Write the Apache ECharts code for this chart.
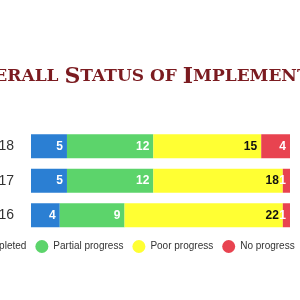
<!DOCTYPE html>
<html>
<head>
<meta charset="utf-8">
<script src="https://cdn.jsdelivr.net/npm/echarts@6/dist/echarts.min.js"></script>
<style>
  html, body { margin: 0; padding: 0; width: 300px; height: 300px; overflow: hidden; background: #fff; }
  /* 原图是裁剪过的，这里把画布放大再左移 */
  #main { position: absolute; left: -60px; top: 0; width: 440px; height: 300px; }
</style>
</head>
<body>
<div id="main"></div>
<script>
// 年份
var years = ['2018', '2017', '2016'];
// 图例
var legend_names = ['Completed', 'Partial progress', 'Poor progress', 'No progress'];
// 各状态的数量
var completed = [5, 5, 4];
var partial = [12, 12, 9];
var poor = [15, 18, 22];
var no_progress = [4, 1, 1];

var colors = ['#2b7fd3', '#5cd46b', '#ffff33', '#e84350'];
var label_colors = ['#fff', '#fff', '#111', '#fff'];

var ec = echarts.init(document.getElementById('main'));

var series = [];
[completed, partial, poor, no_progress].forEach(function(ele, index) {
  series.push({
    name: legend_names[index],
    type: 'bar',
    stack: 'all',
    barWidth: 24,
    data: ele,
    label: {
      show: true,
      position: 'insideRight',
      distance: 4,
      color: label_colors[index],
      fontFamily: 'Liberation Sans',
      fontWeight: 'bold',
      fontSize: 12
    }
  });
});

ec.setOption({
  color: colors,
  animation: false,
  title: {
    left: 17,
    top: 61,
    text: '{b|O}{s|VERALL }{b|S}{s|TATUS OF }{b|I}{s|MPLEMENTATION}',
    textStyle: {
      rich: {
        b: { fontFamily: 'DejaVu Serif', fontSize: 22, fontWeight: 'bold', color: '#7b1b20' },
        s: { fontFamily: 'DejaVu Serif', fontSize: 17, fontWeight: 'bold', color: '#7b1b20' }
      }
    }
  },
  grid: {
    left: 91,
    right: 90,
    top: 129,
    height: 103.5
  },
  xAxis: {
    type: 'value',
    min: 0,
    max: 36,
    show: false
  },
  yAxis: {
    type: 'category',
    inverse: true,
    data: years,
    axisLine: { show: false },
    axisTick: { show: false },
    axisLabel: {
      margin: 17,
      color: '#333',
      fontFamily: 'Liberation Sans',
      fontSize: 14
    }
  },
  legend: {
    data: legend_names,
    left: 15,
    top: 235,
    icon: 'circle',
    itemWidth: 13,
    itemHeight: 13,
    itemGap: 9,
    textStyle: {
      color: '#333',
      fontFamily: 'Liberation Sans',
      fontSize: 10
    }
  },
  series: series
});
</script>
</body>
</html>
